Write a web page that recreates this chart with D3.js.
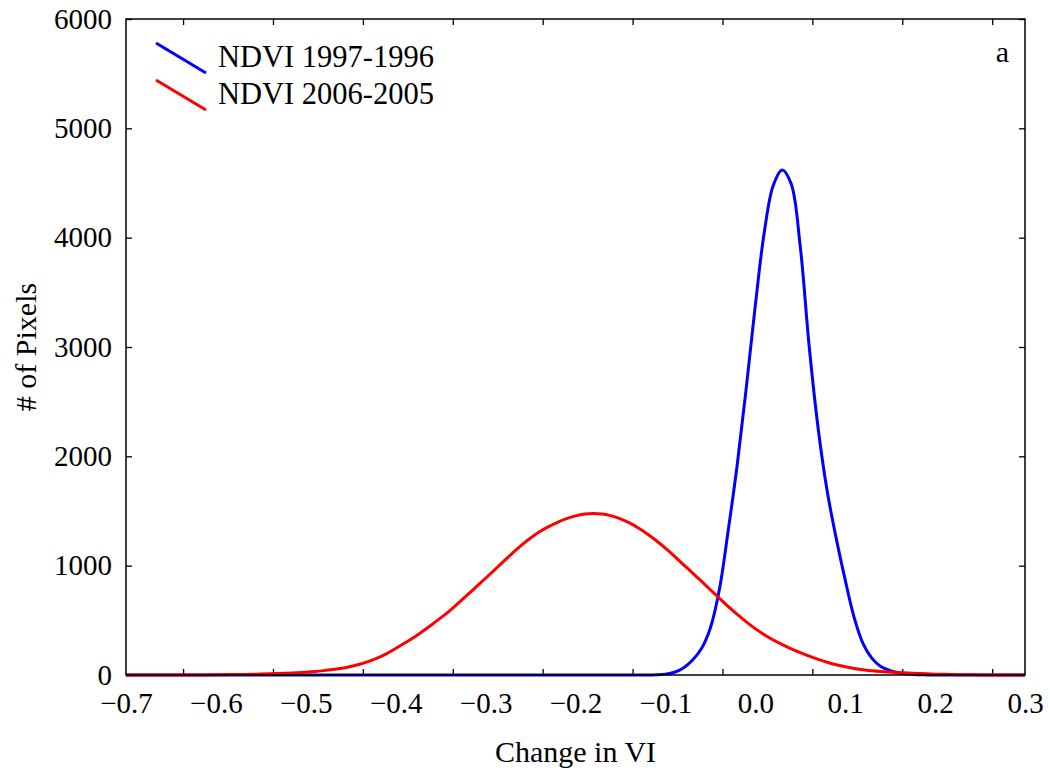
<!DOCTYPE html>
<html>
<head>
<meta charset="utf-8">
<script src="https://cdn.jsdelivr.net/npm/d3@7"></script>
<style>
  body { margin: 0; background: #fff; }
  svg text { font-family: "Liberation Serif", "Times New Roman", serif; fill: #000; }
</style>
</head>
<body>
<svg id="chart" width="1050" height="772"></svg>
<script>
// x positions of the samples (change in VI), step 0.01
const xValues = d3.range(101).map(i => +(-0.7 + i * 0.01).toFixed(2));

// NDVI 1997-1996 pixel counts, -0.70 ... 0.30
const ndvi9796 = [
  0, 0, 0, 0, 0, 0, 0, 0, 0, 0,            // -0.70 .. -0.61
  0, 0, 0, 0, 0, 0, 0, 0, 0, 0,            // -0.60 .. -0.51
  0, 0, 0, 0, 0, 0, 0, 0, 0, 0,            // -0.50 .. -0.41
  0, 0, 0, 0, 0, 0, 0, 0, 0, 0,            // -0.40 .. -0.31
  0, 0, 0, 0, 0, 0, 0, 0, 0, 0,            // -0.30 .. -0.21
  0, 0, 0, 0, 0, 0, 0, 0, 0, 2,            // -0.20 .. -0.11
  8, 25, 65, 135, 240, 430, 780, 1330, 1930, 2630,     // -0.10 .. -0.01
  3380, 4050, 4480, 4620, 4490, 3920, 3000, 2250, 1680, 1250, // 0.00 .. 0.09
  870, 525, 285, 150, 75, 40, 18, 8, 3, 1, // 0.10 .. 0.19
  0, 0, 0, 0, 0, 0, 0, 0, 0, 0,            // 0.20 .. 0.29
  0                                        // 0.30
];

// NDVI 2006-2005 pixel counts, -0.70 ... 0.30
const ndvi0605 = [
  0, 0, 0, 0, 0, 0, 0, 0, 0, 1,                         // -0.70 .. -0.61
  2, 3, 4, 5, 7, 9, 11, 14, 17, 21,                     // -0.60 .. -0.51
  26, 32, 40, 50, 62, 78, 98, 124, 156, 196,            // -0.50 .. -0.41
  243, 292, 343, 400, 460, 522, 587, 660, 735, 810,     // -0.40 .. -0.31
  885, 962, 1040, 1115, 1188, 1253, 1310, 1357, 1397, 1430, // -0.30 .. -0.21
  1455, 1472, 1478, 1472, 1455, 1428, 1392, 1345, 1290, 1228, // -0.20 .. -0.11
  1160, 1087, 1010, 935, 858, 780, 702, 626, 554, 486,  // -0.10 .. -0.01
  424, 368, 320, 278, 240, 205, 172, 143, 117, 94,      // 0.00 .. 0.09
  75, 60, 48, 38, 31, 26, 22, 18, 14, 11,               // 0.10 .. 0.19
  8, 6, 4, 3, 2, 1, 0, 0, 0, 0,                         // 0.20 .. 0.29
  0                                                     // 0.30
];

const seriesNames = ["NDVI 1997-1996", "NDVI 2006-2005"];
const seriesColors = ["#0000ff", "#ff0000"];

const xTickLabels = [-0.7, -0.6, -0.5, -0.4, -0.3, -0.2, -0.1, 0.0, 0.1, 0.2, 0.3];
// tick marks sit off the labels in the original figure
const xTickMarks = [-0.6365, -0.5365, -0.4365, -0.3365, -0.2365, -0.1365, -0.0365, 0.0635, 0.1635, 0.2635];
const yTickValues = [0, 1000, 2000, 3000, 4000, 5000, 6000];

const svg = d3.select("#chart");
const width = +svg.attr("width");
const height = +svg.attr("height");
const margin = { top: 19, right: 25, bottom: 97, left: 126 };
const innerW = width - margin.left - margin.right;
const innerH = height - margin.top - margin.bottom;

const x = d3.scaleLinear().domain([-0.7, 0.3]).range([0, innerW]);
const y = d3.scaleLinear().domain([0, 6000]).range([innerH, 0]);

const g = svg.append("g").attr("transform", `translate(${margin.left},${margin.top})`);

// tick marks (inward) on all four sides
const tickLen = 6;
g.append("g").attr("transform", `translate(0,${innerH})`)
  .call(d3.axisBottom(x).tickValues(xTickMarks).tickSize(-tickLen).tickFormat(""));
g.append("g")
  .call(d3.axisTop(x).tickValues(xTickMarks).tickSize(-tickLen).tickFormat(""));
g.append("g")
  .call(d3.axisLeft(y).tickValues(yTickValues).tickSize(-tickLen).tickFormat(""));
g.append("g").attr("transform", `translate(${innerW},0)`)
  .call(d3.axisRight(y).tickValues(yTickValues).tickSize(-tickLen).tickFormat(""));

g.selectAll(".domain").remove();
g.selectAll(".tick line").attr("stroke", "#000").attr("stroke-width", 1.3);

// tick labels
const xLab = g.append("g").attr("transform", `translate(0,${innerH})`)
  .call(d3.axisBottom(x).tickValues(xTickLabels).tickSize(0).tickPadding(0)
    .tickFormat(d3.format(".1f")));
xLab.select(".domain").remove();
xLab.selectAll("text").attr("font-size", 29).attr("dy", null).attr("y", 38)
  .style("font-family", '"Liberation Serif", "Times New Roman", serif');

const yLab = g.append("g")
  .call(d3.axisLeft(y).tickValues(yTickValues).tickSize(0).tickPadding(14)
    .tickFormat(d3.format("d")));
yLab.select(".domain").remove();
yLab.selectAll("text").attr("font-size", 29)
  .style("font-family", '"Liberation Serif", "Times New Roman", serif');

// curves
const line = d3.line()
  .x((d, i) => x(xValues[i]))
  .y(d => y(d))
  .curve(d3.curveCatmullRom.alpha(0.5));

[ndvi9796, ndvi0605].forEach((vals, k) => {
  g.append("path")
    .datum(vals)
    .attr("fill", "none")
    .attr("stroke", seriesColors[k])
    .attr("stroke-width", 3)
    .attr("stroke-linejoin", "round")
    .attr("d", line);
});

// frame
g.append("rect")
  .attr("width", innerW).attr("height", innerH)
  .attr("fill", "none").attr("stroke", "#000").attr("stroke-width", 1.5);

// axis titles
svg.append("text")
  .attr("x", margin.left + innerW / 2).attr("y", 762)
  .attr("text-anchor", "middle").attr("font-size", 30)
  .text("Change in VI");

svg.append("text")
  .attr("transform", `translate(36,${margin.top + innerH / 2}) rotate(-90)`)
  .attr("text-anchor", "middle").attr("font-size", 30)
  .text("# of Pixels");

// panel letter
svg.append("text")
  .attr("x", 1009).attr("y", 62)
  .attr("text-anchor", "end").attr("font-size", 30)
  .text("a");

// legend
const legend = svg.append("g").attr("transform", "translate(156,43)");
seriesNames.forEach((name, k) => {
  const row = legend.append("g").attr("transform", `translate(0,${k * 37})`);
  row.append("line")
    .attr("x1", 0).attr("y1", 0).attr("x2", 50).attr("y2", 30)
    .attr("stroke", seriesColors[k]).attr("stroke-width", 3);
  row.append("text")
    .attr("x", 62).attr("y", 24)
    .attr("font-size", 30.5)
    .text(name);
});
</script>
</body>
</html>
